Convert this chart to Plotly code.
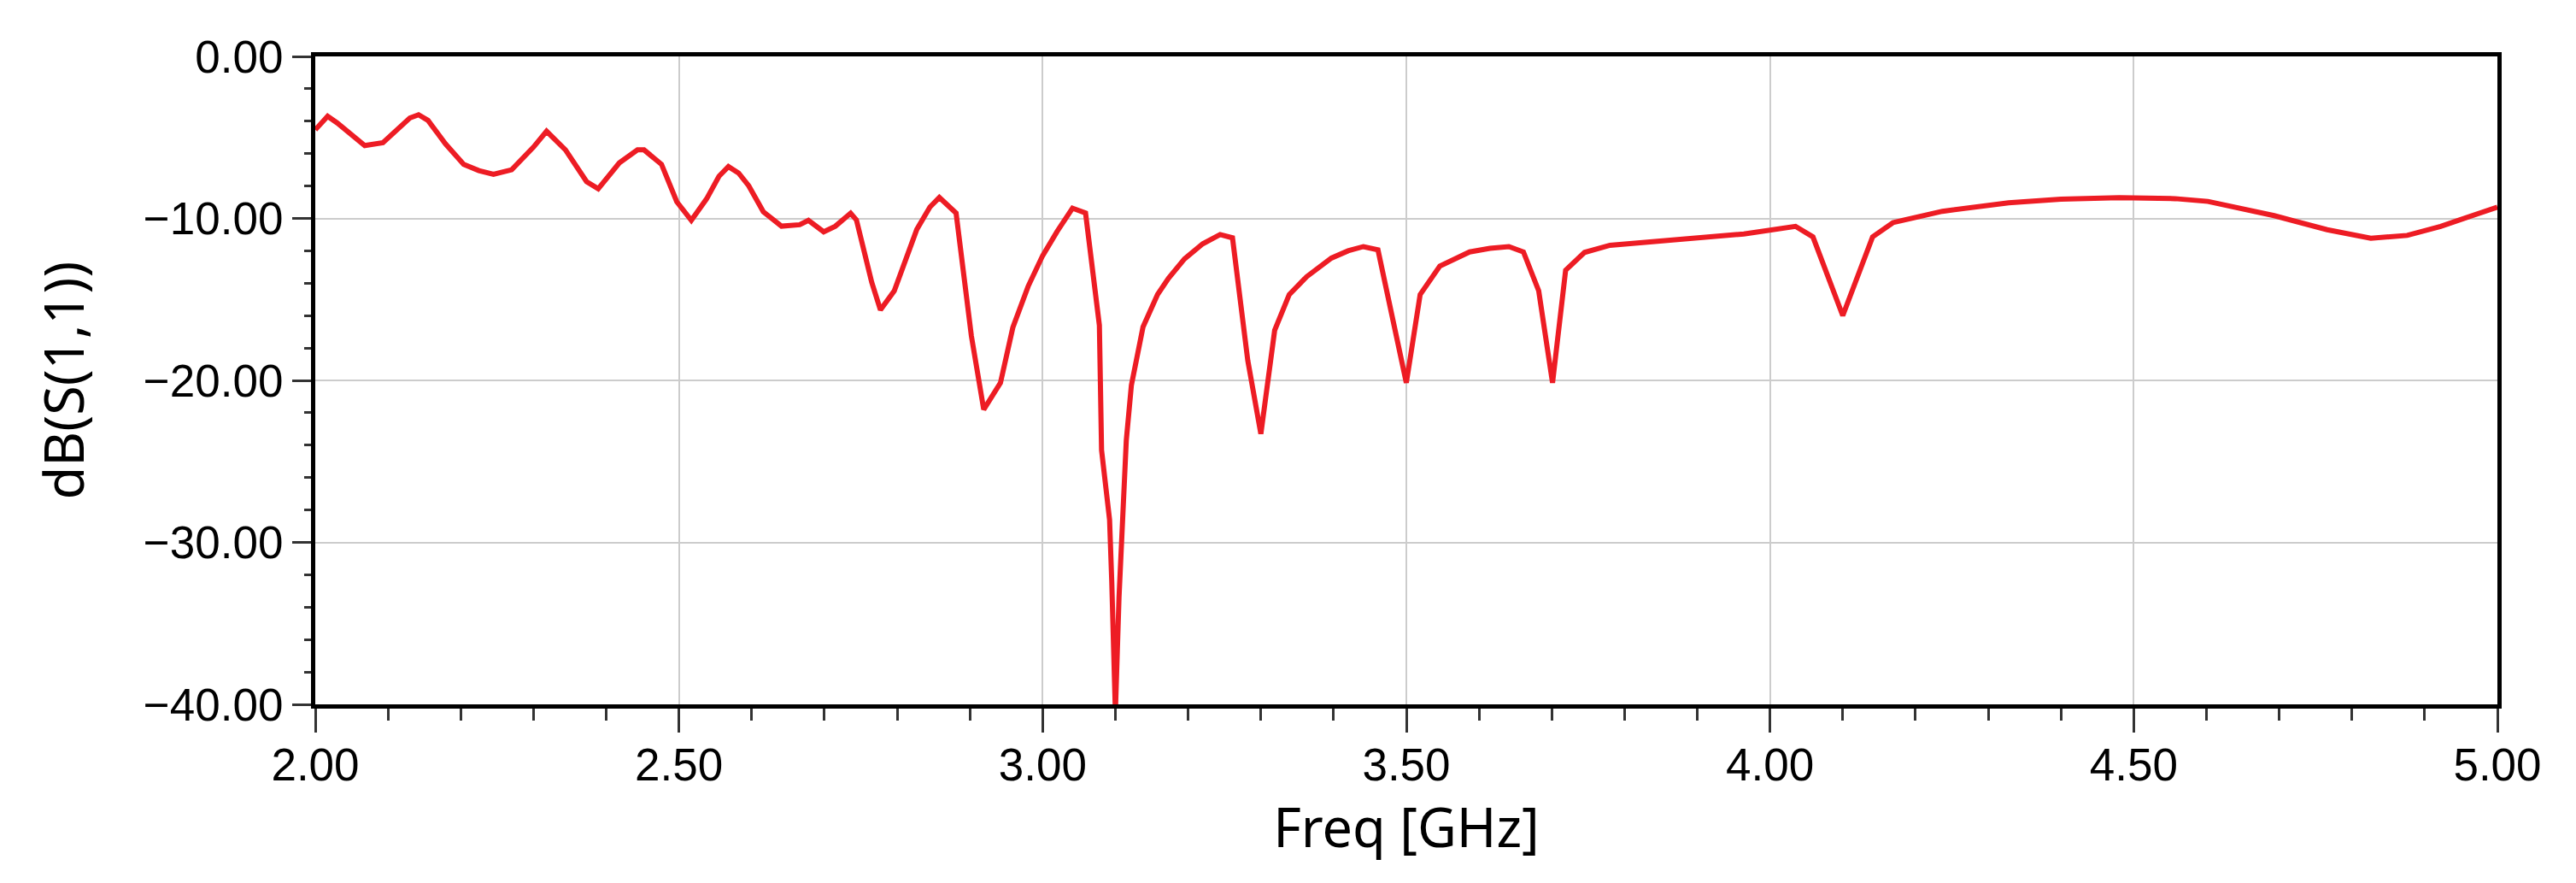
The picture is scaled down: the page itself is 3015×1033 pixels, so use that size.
import plotly.graph_objects as go

# S11 trace
freq_ghz = [2.000, 2.017, 2.030, 2.068, 2.093, 2.115, 2.130, 2.142, 2.155, 2.179,
            2.204, 2.225, 2.245, 2.270, 2.300, 2.318, 2.344, 2.373, 2.389, 2.418,
            2.443, 2.452, 2.476, 2.497, 2.517, 2.538, 2.555, 2.568, 2.582, 2.596,
            2.616, 2.641, 2.666, 2.678, 2.699, 2.715, 2.736, 2.744, 2.765, 2.777,
            2.796, 2.827, 2.845, 2.858, 2.881, 2.902, 2.919, 2.942, 2.959, 2.980,
            3.000, 3.020, 3.041, 3.059, 3.078, 3.081, 3.092, 3.095, 3.100, 3.105,
            3.112, 3.115, 3.122, 3.138, 3.158, 3.173, 3.195, 3.220, 3.244, 3.261,
            3.282, 3.300, 3.319, 3.339, 3.363, 3.397, 3.420, 3.441, 3.461, 3.482,
            3.500, 3.519, 3.546, 3.587, 3.615, 3.641, 3.661, 3.682, 3.701, 3.719,
            3.745, 3.780, 3.872, 3.964, 4.035, 4.059, 4.100, 4.141, 4.169, 4.237,
            4.328, 4.400, 4.480, 4.557, 4.602, 4.693, 4.766, 4.826, 4.876, 4.922,
            5.000]
s11_db = [-4.53, -3.69, -4.10, -5.50, -5.33, -4.40, -3.80, -3.60, -3.95, -5.40,
          -6.66, -7.05, -7.28, -7.00, -5.60, -4.62, -5.77, -7.73, -8.17, -6.57,
          -5.77, -5.77, -6.66, -8.97, -10.12, -8.79, -7.40, -6.80, -7.20, -7.99,
          -9.59, -10.48, -10.39, -10.12, -10.83, -10.48, -9.68, -10.10, -13.94, -15.65,
          -14.47, -10.68, -9.30, -8.71, -9.67, -17.25, -21.80, -20.15, -16.74, -14.20,
          -12.30, -10.80, -9.37, -9.67, -16.60, -24.30, -28.60, -32.40, -40.50, -33.40,
          -27.30, -23.70, -20.30, -16.70, -14.70, -13.70, -12.50, -11.57, -11.00, -11.20,
          -18.76, -23.30, -16.90, -14.70, -13.60, -12.45, -12.00, -11.74, -11.94, -16.24,
          -20.15, -14.70, -12.95, -12.07, -11.85, -11.74, -12.07, -14.47, -20.15, -13.20,
          -12.10, -11.66, -11.31, -10.96, -10.49, -11.14, -16.00, -11.14, -10.26, -9.56,
          -9.04, -8.81, -8.72, -8.78, -8.95, -9.83, -10.70, -11.22, -11.05, -10.49,
          -9.30]

x_ticks = [2.0, 2.5, 3.0, 3.5, 4.0, 4.5, 5.0]
y_ticks = [0, -10, -20, -30, -40]

fig = go.Figure()
fig.add_trace(go.Scatter(x=freq_ghz, y=s11_db, mode="lines",
                         line=dict(color="#ED1C24", width=6), showlegend=False))

tick_font = dict(family="Liberation Sans, Arial", size=53, color="black")
title_font = dict(family="Noto Sans", size=63, color="black")

fig.update_xaxes(
    range=[2, 5], tickvals=x_ticks, ticktext=["%.2f" % v for v in x_ticks],
    showline=True, linecolor="black", linewidth=5, mirror=True,
    showgrid=True, gridcolor="#cccccc", gridwidth=2, zeroline=False,
    ticks="outside", ticklen=28, tickwidth=3, tickcolor="#333333",
    minor=dict(dtick=0.1, ticks="outside", ticklen=14, tickwidth=3,
               tickcolor="#333333", showgrid=False),
    tickfont=tick_font, ticklabelstandoff=-8,
    title=dict(text="Freq [GHz]", font=title_font, standoff=22),
)
fig.update_yaxes(
    range=[-40, 0], tickvals=y_ticks, ticktext=["0.00" if v == 0 else "\u2212%.2f" % -v for v in y_ticks],
    showline=True, linecolor="black", linewidth=5, mirror=True,
    showgrid=True, gridcolor="#cccccc", gridwidth=2, zeroline=False,
    ticks="outside", ticklen=22, tickwidth=3, tickcolor="#333333",
    minor=dict(dtick=2, ticks="outside", ticklen=8, tickwidth=3,
               tickcolor="#333333", showgrid=False),
    tickfont=tick_font,
    title=dict(text="dB(S(1,1))", font=title_font, standoff=50),
)

fig.update_layout(
    width=3015, height=1033,
    margin=dict(l=361, r=100, t=58, b=217, autoexpand=False),
    paper_bgcolor="white", plot_bgcolor="white",
)

fig.write_html("out.html")
